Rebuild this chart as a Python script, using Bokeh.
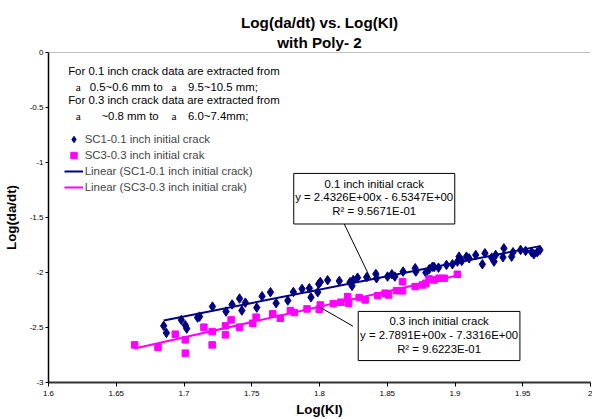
import numpy as np
from bokeh.plotting import figure
from bokeh.models import Range1d, FixedTicker, Label, BoxAnnotation, Legend, LegendItem, Span, Title
from bokeh.embed import file_html
from bokeh.resources import INLINE

# ---------------- data ----------------
sc1_x = [1.685, 1.687, 1.698, 1.701, 1.702, 1.710, 1.7115, 1.721, 1.731, 1.7355,
         1.741, 1.7427, 1.7453, 1.7537, 1.7576, 1.7638, 1.768, 1.7766, 1.7807, 1.7871,
         1.7925, 1.7937, 1.7987, 1.7994, 1.8006, 1.806, 1.8146, 1.8225, 1.824, 1.8249,
         1.8281, 1.8348, 1.8416, 1.8421, 1.8502, 1.8534, 1.8556, 1.8617, 1.8706, 1.8711,
         1.8785, 1.881, 1.8834, 1.8846, 1.8878, 1.8937, 1.8981, 1.9018, 1.903, 1.905,
         1.9084, 1.9104, 1.9153, 1.9202, 1.9221, 1.9271, 1.9288, 1.930, 1.9354, 1.9361,
         1.9418, 1.9428, 1.9484, 1.9521, 1.9565, 1.9582, 1.9607, 1.9627]
sc1_y = [-2.485, -2.549, -2.431, -2.479, -2.510, -2.410, -2.401, -2.310, -2.355, -2.290,
         -2.237, -2.346, -2.274, -2.319, -2.216, -2.179, -2.279, -2.255, -2.177, -2.149,
         -2.143, -2.225, -2.179, -2.104, -2.086, -2.070, -2.077, -2.088, -2.122, -2.068,
         -2.047, -2.043, -2.013, -2.052, -2.037, -2.016, -2.037, -1.992, -1.961, -1.992,
         -2.001, -1.970, -1.947, -1.950, -1.956, -1.931, -1.925, -1.901, -1.856, -1.895,
         -1.856, -1.871, -1.841, -1.925, -1.825, -1.865, -1.901, -1.841, -1.861, -1.780,
         -1.856, -1.816, -1.795, -1.804, -1.816, -1.834, -1.816, -1.795]

sc3_x = [1.6636, 1.6808, 1.6936, 1.701, 1.701, 1.7147, 1.7208, 1.7208, 1.7306, 1.7306,
         1.7348, 1.741, 1.7508, 1.7532, 1.7655, 1.7711, 1.7785, 1.7814, 1.7908, 1.7998,
         1.8006, 1.8102, 1.8158, 1.8208, 1.8215, 1.8293, 1.8337, 1.8429, 1.8485, 1.851,
         1.8569, 1.8613, 1.8613, 1.8706, 1.876, 1.8785, 1.8809, 1.8846, 1.8883, 1.892,
         1.9018]
sc3_y = [-2.658, -2.679, -2.561, -2.612, -2.733, -2.497, -2.537, -2.658, -2.485, -2.567,
         -2.431, -2.497, -2.461, -2.406, -2.376, -2.416, -2.346, -2.364, -2.331, -2.334,
         -2.295, -2.283, -2.270, -2.219, -2.279, -2.228, -2.249, -2.210, -2.188, -2.204,
         -2.165, -2.083, -2.167, -2.128, -2.113, -2.098, -2.058, -2.068, -2.052, -2.052,
         -2.016]

sc1_slope, sc1_intercept, sc1_r2 = 2.4326, -6.5347, 0.95671
sc3_slope, sc3_intercept, sc3_r2 = 2.7891, -7.3316, 0.96223

series_names = ["SC1-0.1 inch initial crack", "SC3-0.3 inch initial crak"]
fit_names = ["Linear (SC1-0.1 inch initial crack)", "Linear (SC3-0.3 inch initial crak)"]
box_titles = ["0.1 inch initial crack", "0.3 inch initial crack"]

x_ticks = [1.6, 1.65, 1.7, 1.75, 1.8, 1.85, 1.9, 1.95, 2.0]
x_tick_labels = ["1.6", "1.65", "1.7", "1.75", "1.8", "1.85", "1.9", "1.95", "2"]
y_ticks = [-3.0, -2.5, -2.0, -1.5, -1.0, -0.5, 0.0]
y_tick_labels = ["-3", "-2.5", "-2", "-1.5", "-1", "-0.5", "0"]

title_lines = ["Log(da/dt) vs. Log(KI)", "with Poly- 2"]
x_title = "Log(KI)"
y_title = "Log(da/dt)"

NAVY = "#000080"
MAGENTA = "#FF00FF"
FONT = "Liberation Sans"

# ---------------- figure ----------------
p = figure(width=592, height=419, x_range=Range1d(1.6, 2.0), y_range=Range1d(-3, 0),
           output_backend="svg", toolbar_location=None, title=None,
           min_border_left=47, min_border_right=2, min_border_top=52, min_border_bottom=36)
p.grid.visible = False
p.outline_line_color = None
p.background_fill_color = "white"
p.border_fill_color = "white"

for ax, ticks, labels in ((p.xaxis, x_ticks, x_tick_labels), (p.yaxis, y_ticks, y_tick_labels)):
    ax.ticker = FixedTicker(ticks=ticks)
    ax.major_label_overrides = dict(zip(ticks, labels))
    ax.minor_tick_line_color = None
    ax.major_tick_in = 0
    ax.major_label_text_font = FONT
    ax.major_label_text_font_size = "8px"
    ax.major_label_text_color = "black"
    ax.major_tick_line_color = "black"
    ax.axis_label_text_font = FONT
    ax.axis_label_text_font_size = "13.3px"
    ax.axis_label_text_font_style = "bold"
    ax.axis_label_text_color = "black"

p.xaxis.major_tick_out = 4
p.xaxis.major_label_standoff = 4
p.xaxis.axis_line_width = 2
p.xaxis.axis_line_color = "#333333"
p.xaxis.axis_label = x_title
p.xaxis.axis_label_standoff = 3
p.yaxis.major_tick_out = 3
p.yaxis.major_label_standoff = 2
p.yaxis.axis_line_width = 1.5
p.yaxis.axis_line_color = "black"
p.yaxis.axis_label = y_title
p.yaxis.axis_label_standoff = 8

# two-line chart title (first added sits nearest the plot)
p.add_layout(Title(text=title_lines[1], align="center", offset=-7.5, standoff=3,
                   text_font=FONT, text_font_size="15.2px", text_font_style="bold",
                   text_color="black"), "above")
p.add_layout(Title(text=title_lines[0], align="center", offset=2.5, standoff=0,
                   text_font=FONT, text_font_size="15.2px", text_font_style="bold",
                   text_color="black"), "above")

p.add_layout(Span(location=0, dimension="width", line_color="#808080", line_width=1))

# ---------------- marks ----------------
r1 = p.scatter(sc1_x, sc1_y, marker="diamond", size=9.5, color=NAVY)
r2 = p.scatter(sc3_x, sc3_y, marker="square", size=6.5, color=MAGENTA)

fx1 = np.array([min(sc1_x), max(sc1_x)])
r3 = p.line(fx1, sc1_slope * fx1 + sc1_intercept, line_color=NAVY, line_width=2)
fx3 = np.array([min(sc3_x), max(sc3_x)])
r4 = p.line(fx3, sc3_slope * fx3 + sc3_intercept, line_color=MAGENTA, line_width=2)

legend = Legend(items=[LegendItem(label=series_names[0], renderers=[r1]),
                       LegendItem(label=series_names[1], renderers=[r2]),
                       LegendItem(label=fit_names[0], renderers=[r3]),
                       LegendItem(label=fit_names[1], renderers=[r4])],
                location=(15.7, 187.5), padding=0, spacing=0, margin=0,
                glyph_width=19, glyph_height=16, label_height=16, label_standoff=2,
                label_text_font=FONT, label_text_font_size="11.4px",
                border_line_color=None, background_fill_alpha=0)
p.add_layout(legend)


# ---------------- annotations (pixel positions -> data) ----------------
def X(px):
    return 1.6 + (px - 47) / 1357.5


def Y(py):
    return -(py - 52) / 110.33


def add_label(text, px, py, size="11.4px", style="normal", align="left",
              font=FONT, angle=0.0):
    p.add_layout(Label(x=X(px), y=Y(py), text=text, text_font=font, text_font_size=size,
                       text_font_style=style, text_align=align, text_baseline="middle",
                       angle=angle, text_color="black"))


# extraction notes
add_label("For 0.1 inch crack data are extracted from", 66.7, 71)
add_label("a", 74.3, 86.5, font="Liberation Serif")
add_label("0.5~0.6 mm to", 88.3, 86.5)
add_label("a", 170.3, 86.5, font="Liberation Serif")
add_label("9.5~10.5 mm;", 186.7, 86.5)
add_label("For 0.3 inch crack data are extracted from", 66.7, 100)
add_label("a", 74.3, 115.5, font="Liberation Serif")
add_label("~0.8 mm to", 100, 115.5)
add_label("a", 170.3, 115.5, font="Liberation Serif")
add_label("6.0~7.4mm;", 186.7, 115.5)

# callout boxes with fit equations
callout_x = [1.838, 1.7998]
p.segment(x0=[X(343.3), X(352)], y0=[Y(224), Y(326.5)],
          x1=callout_x,
          y1=[sc1_slope * callout_x[0] + sc1_intercept, sc3_slope * callout_x[1] + sc3_intercept],
          line_color="black", line_width=1)

boxes = [(292.7, 454.0, 173.3, 224.0), (357.3, 519.3, 311.7, 361.0)]
for (l, r, t, b) in boxes:
    p.add_layout(BoxAnnotation(left=X(l), right=X(r), top=Y(t), bottom=Y(b),
                               fill_color="white", fill_alpha=1.0,
                               line_color="black", line_width=1, line_alpha=1.0))

fits = [(sc1_slope, sc1_intercept, sc1_r2), (sc3_slope, sc3_intercept, sc3_r2)]
text_rows = [(373.3, (184.3, 197.3, 210.5)), (438.3, (321.7, 335.0, 349.5))]
for title, (a, b, r2), (cx, rows) in zip(box_titles, fits, text_rows):
    sign = "-" if b < 0 else "+"
    add_label(title, cx, rows[0], align="center")
    add_label(f"y = {a:.4E}x {sign} {abs(b):.4E}", cx, rows[1], align="center")
    add_label(f"R\u00b2 = {r2:.4E}", cx, rows[2], align="center")

open("out.html", "w").write(file_html(p, INLINE))
